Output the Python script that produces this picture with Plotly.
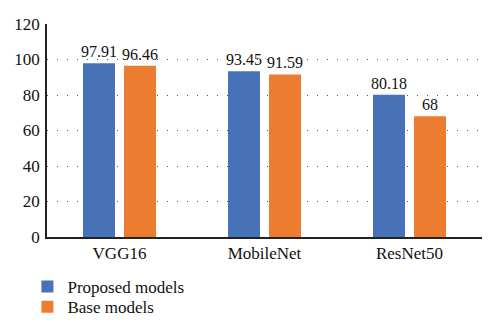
import plotly.graph_objects as go

categories = ["VGG16", "MobileNet", "ResNet50"]
proposed = [97.91, 93.45, 80.18]
base = [96.46, 91.59, 68]
proposed_labels = ["97.91", "93.45", "80.18"]
base_labels = ["96.46", "91.59", "68"]

FONT = "Liberation Serif"

fig = go.Figure()
fig.add_trace(go.Bar(
    x=categories, y=proposed, name="Proposed models",
    marker=dict(color="#4872B8", line=dict(width=0)),
    text=proposed_labels, textposition="outside", cliponaxis=False,
    constraintext="none",
    textfont=dict(family=FONT, size=16, color="#111111"),
    legend="legend",
))
fig.add_trace(go.Bar(
    x=categories, y=base, name="Base models",
    marker=dict(color="#EC7C30", line=dict(width=0)),
    text=base_labels, textposition="outside", cliponaxis=False,
    constraintext="none",
    textfont=dict(family=FONT, size=16, color="#111111"),
    legend="legend2",
))

legend_style = dict(
    orientation="v", x=-0.045, xanchor="left", yanchor="middle",
    font=dict(family=FONT, size=17, color="#111111"),
    itemwidth=30, bgcolor="rgba(0,0,0,0)",
)

fig.update_layout(
    width=500, height=331,
    margin=dict(l=47, r=18, t=24, b=94, autoexpand=False),
    paper_bgcolor="white", plot_bgcolor="white",
    barmode="group", bargap=0.434, bargroupgap=0.22,
    font=dict(family=FONT, size=17, color="#111111"),
    showlegend=True,
    legend=dict(legend_style, y=-0.235),
    legend2=dict(legend_style, y=-0.329),
    xaxis=dict(
        showline=True, linecolor="#222222", linewidth=1.5,
        ticks="", showgrid=False,
        tickfont=dict(family=FONT, size=17, color="#111111"),
    ),
    yaxis=dict(
        range=[0, 120], dtick=20,
        showline=True, linecolor="#222222", linewidth=1.5,
        ticks="", zeroline=False,
        showgrid=True, gridcolor="#555555", gridwidth=1, griddash="1px,9px",
        tickfont=dict(family=FONT, size=17, color="#111111"),
        ticklabelstandoff=2,
    ),
)

fig.write_html("out.html")
